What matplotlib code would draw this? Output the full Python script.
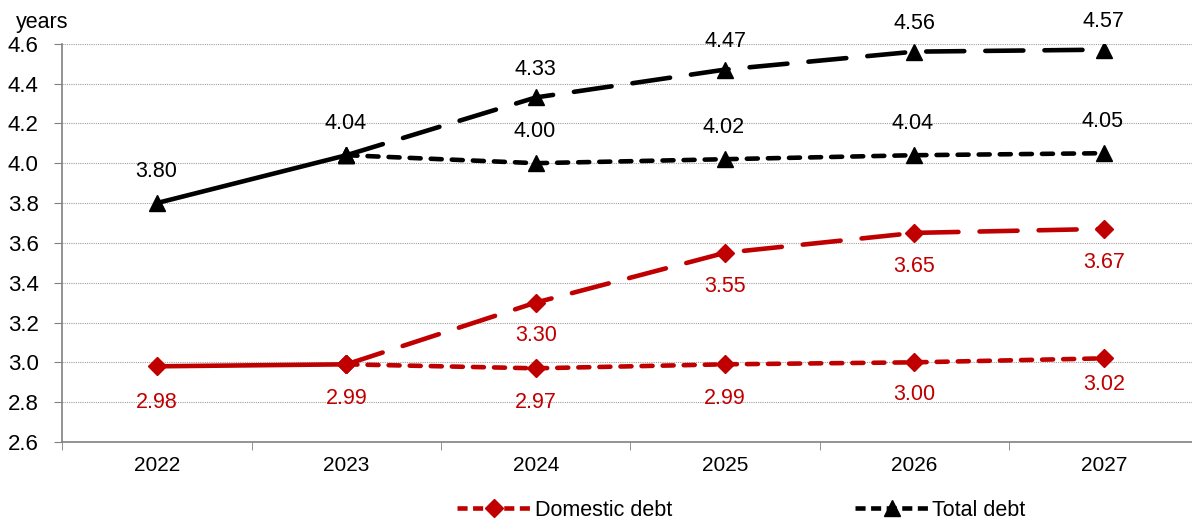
import matplotlib.pyplot as plt
from matplotlib.lines import Line2D

plt.rcParams['font.family'] = ['Liberation Sans', 'DejaVu Sans']

years = ['2022', '2023', '2024', '2025', '2026', '2027']
total_base = [3.80, 4.04, 4.00, 4.02, 4.04, 4.05]
total_scen = [4.04, 4.33, 4.47, 4.56, 4.57]       # from 2023 on
dom_base = [2.98, 2.99, 2.97, 2.99, 3.00, 3.02]
dom_scen = [2.99, 3.30, 3.55, 3.65, 3.67]         # from 2023 on

RED = '#C00000'
BLK = '#000000'
lw = 3.3
LONG = (8.3, 4.6)
SHORT = (2.4, 2.2)

fig = plt.figure(figsize=(11.92, 5.27), dpi=100)
ax = fig.add_axes([0.0524, 0.1613, 0.953, 0.7558])

x = list(range(len(years)))
xs = x[1:]

common = dict(lw=lw, dash_capstyle='round', solid_capstyle='round')
tri = dict(marker='^', ms=11)
dia = dict(marker='D', ms=9)

# history (solid) 2022-2023
ax.plot(x[:2], total_base[:2], color=BLK, zorder=4, **tri, **common)
ax.plot(x[:2], dom_base[:2], color=RED, zorder=4, **dia, **common)
# baseline: short dashes
ax.plot(xs, total_base[1:], color=BLK, dashes=SHORT, zorder=3, **tri, **common)
ax.plot(xs, dom_base[1:], color=RED, dashes=SHORT, zorder=3, **dia, **common)
# scenario: long dashes
ax.plot(xs, total_scen, color=BLK, dashes=LONG, zorder=3, **tri, **common)
ax.plot(xs, dom_scen, color=RED, dashes=LONG, zorder=3, **dia, **common)

fs = 15.5
# data labels
for i, v in enumerate(total_base):
    ax.annotate('%.2f' % v, (i, v), xytext=(-1, 23), textcoords='offset points',
                ha='center', va='center', fontsize=fs, color=BLK)
for i, v in zip(xs[1:], total_scen[1:]):
    ax.annotate('%.2f' % v, (i, v), xytext=(0, 20), textcoords='offset points',
                ha='center', va='center', fontsize=fs, color=BLK)
dom_off = [26, 24.5, 24.5, 24.5, 23, 19]
for i, v in enumerate(dom_base):
    ax.annotate('%.2f' % v, (i, v), xytext=(0, -dom_off[i]), textcoords='offset points',
                ha='center', va='center', fontsize=fs, color=RED)
for i, v in zip(xs[1:], dom_scen[1:]):
    ax.annotate('%.2f' % v, (i, v), xytext=(0, -24), textcoords='offset points',
                ha='center', va='center', fontsize=fs, color=RED)

ax.set_xlim(-0.5, 5.5)
ax.set_ylim(2.6, 4.6)
yt = [2.6 + 0.2 * k for k in range(11)]
ax.set_yticks(yt)
ax.set_yticklabels(['%.1f' % t for t in yt], fontsize=16)
ax.set_xticks(x)
ax.set_xticklabels(years, fontsize=15)
ax.set_xticks([k + 0.5 for k in range(-1, 6)], minor=True)
ax.tick_params(axis='x', which='major', length=0, pad=10)
ax.tick_params(axis='x', which='minor', length=6, color='#808080', direction='out')
ax.tick_params(axis='y', length=6, color='#808080', direction='out', pad=11)

ax.grid(axis='y', color='#a0a0a0', linestyle=(0, (1, 1)), lw=0.8)
ax.set_axisbelow(True)
for s in ['top', 'right']:
    ax.spines[s].set_visible(False)
for s in ['left', 'bottom']:
    ax.spines[s].set_color('#808080')
    ax.spines[s].set_linewidth(1.2)

fig.text(0.013, 0.958, 'years', fontsize=15.5, ha='left', va='center')

h1 = Line2D([], [], color=RED, lw=lw, marker='D', ms=9, dashes=(2.2, 1.2))
h2 = Line2D([], [], color=BLK, lw=lw, marker='^', ms=11, dashes=(2.2, 1.2))
fig.legend([h1, h2], ['Domestic debt', 'Total debt'], loc='center',
           bbox_to_anchor=(0.622, 0.032), ncol=2, frameon=False,
           fontsize=15.5, handlelength=3.4, columnspacing=8.5, handletextpad=0.2)

fig.savefig('out.png', dpi=100)
